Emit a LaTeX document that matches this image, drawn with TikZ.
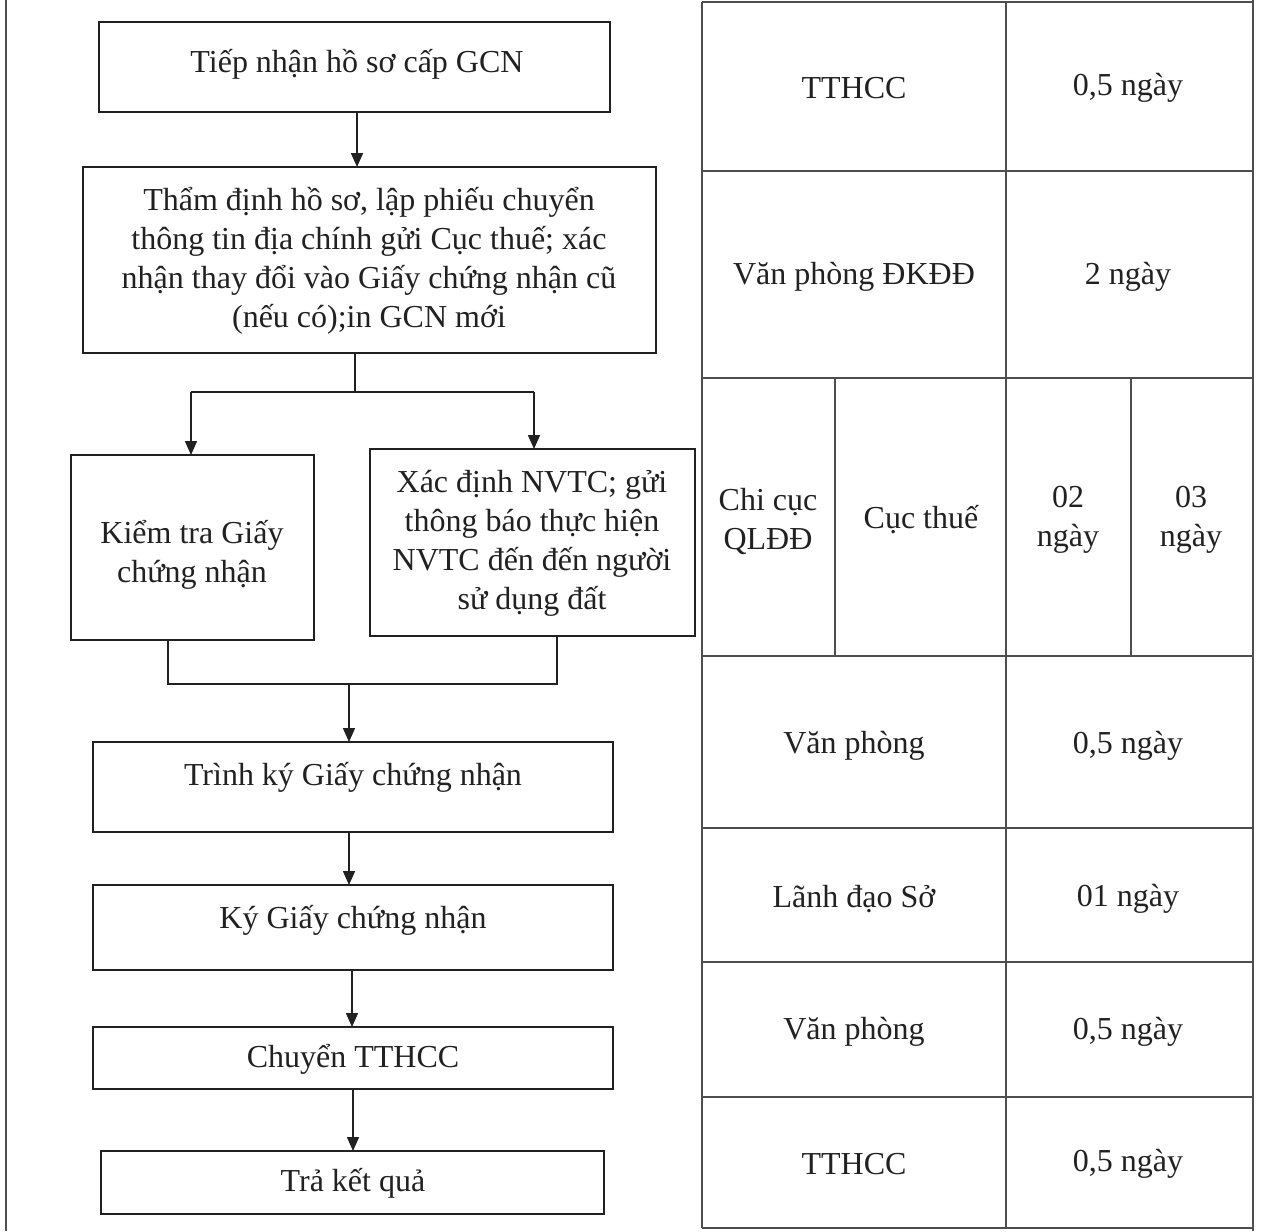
\documentclass[tikz,border=0pt]{standalone}
\usepackage{fontspec}
\setmainfont{Liberation Serif}
\usetikzlibrary{arrows.meta,calc}
\definecolor{ink}{rgb}{0.13,0.13,0.13}
\begin{document}
\begin{tikzpicture}[x=0.5pt,y=-0.5pt,
  every node/.style={inner sep=0pt,outer sep=0pt},
  box/.style={draw=ink,line width=0.8pt,rectangle},
  txt/.style={text=ink,font=\fontsize{16pt}{19.5pt}\selectfont,align=center},
  line/.style={draw=ink,line width=0.75pt},
  arr/.style={line,-{Triangle[length=7pt,width=6pt]}},
  grid/.style={draw=ink!80,line width=0.7pt}]
\useasboundingbox (0,0) rectangle (1262,1231);
\fill[white] (0,0) rectangle (1262,1231);
% page border line
\draw[grid] (6,0) -- (6,1231);
% flowchart boxes
\node[box,minimum width=255.5pt,minimum height=45pt] (b1) at (354.5,67) {};
\node[txt] (t1) at (357,64) {Tiếp nhận hồ sơ cấp GCN};
\node[box,minimum width=286.5pt,minimum height=93pt] (b2) at (369.5,260) {};
\node[txt] (t2) at (369,261) {Thẩm định hồ sơ, lập phiếu chuyển\\thông tin địa chính gửi Cục thuế; xác\\nhận thay đổi vào Giấy chứng nhận cũ\\(nếu có);in GCN mới};
\node[box,minimum width=121.5pt,minimum height=92.5pt] (b3) at (192.5,547.5) {};
\node[txt] (t3) at (192,555) {Kiểm tra Giấy\\chứng nhận};
\node[box,minimum width=162.5pt,minimum height=93.5pt] (b4) at (532.5,542.5) {};
\node[txt] (t4) at (532,543) {Xác định NVTC; gửi\\thông báo thực hiện\\NVTC đến đến người\\sử dụng đất};
\node[box,minimum width=260pt,minimum height=45pt] (b5) at (353,787) {};
\node[txt] (t5) at (353,777) {Trình ký Giấy chứng nhận};
\node[box,minimum width=260pt,minimum height=42.5pt] (b6) at (353,927.5) {};
\node[txt] (t6) at (353,920) {Ký Giấy chứng nhận};
\node[box,minimum width=260pt,minimum height=31pt] (b7) at (353,1058) {};
\node[txt] (t7) at (353,1059) {Chuyển TTHCC};
\node[box,minimum width=251.5pt,minimum height=31.5pt] (b8) at (352.5,1182.5) {};
\node[txt] (t8) at (353,1183) {Trả kết quả};
% connectors
\coordinate (c1) at (357,0);
\draw[arr] (c1 |- b1.south) -- (c1 |- b2.north);
\coordinate (split) at (355,392);
\draw[line] (split |- b2.south) -- (split);
\coordinate (sl) at (191,392);
\coordinate (sr) at (534,392);
\draw[line] (sl) -- (sr);
\draw[arr] (sl) -- (sl |- b3.north);
\draw[arr] (sr) -- (sr |- b4.north);
\coordinate (m1) at (168,684);
\coordinate (m2) at (557,684);
\draw[line] (m1 |- b3.south) -- (m1) -- (m2) -- (m2 |- b4.south);
\coordinate (j) at (349,684);
\draw[arr] (j) -- (j |- b5.north);
\coordinate (c2) at (349,0);
\draw[arr] (c2 |- b5.south) -- (c2 |- b6.north);
\coordinate (c3) at (352,0);
\draw[arr] (c3 |- b6.south) -- (c3 |- b7.north);
\coordinate (c4) at (353,0);
\draw[arr] (c4 |- b7.south) -- (c4 |- b8.north);
% table
\draw[grid] (702,2) -- (1253,2);
\foreach \yy in {171,378,656,828,962,1097,1228}{\draw[grid] (702,\yy) -- (1253,\yy);}
\draw[grid] (702,2) -- (702,1228);
\draw[grid] (1006,2) -- (1006,1228);
\draw[grid] (1253,0) -- (1253,1231);
\draw[grid] (835,378) -- (835,656);
\draw[grid] (1131,378) -- (1131,656);
% table text
\node[txt] (r1a) at (854,88) {TTHCC};
\node[txt] (r1b) at (1128,88) {0,5 ngày};
\node[txt] (r2a) at (854,277) {Văn phòng ĐKĐĐ};
\node[txt] (r2b) at (1128,277) {2 ngày};
\node[txt] (r3a) at (768,521) {Chi cục\\QLĐĐ};
\node[txt] (r3b) at (921,520) {Cục thuế};
\node[txt] (r3c) at (1068,520) {02\\ngày};
\node[txt] (r3d) at (1191,520) {03\\ngày};
\node[txt] (r4a) at (854,746) {Văn phòng};
\node[txt] (r4b) at (1128,746) {0,5 ngày};
\node[txt] (r5a) at (854,899) {Lãnh đạo Sở};
\node[txt] (r5b) at (1128,899) {01 ngày};
\node[txt] (r6a) at (854,1032) {Văn phòng};
\node[txt] (r6b) at (1128,1032) {0,5 ngày};
\node[txt] (r7a) at (854,1164) {TTHCC};
\node[txt] (r7b) at (1128,1164) {0,5 ngày};
\end{tikzpicture}
\end{document}
